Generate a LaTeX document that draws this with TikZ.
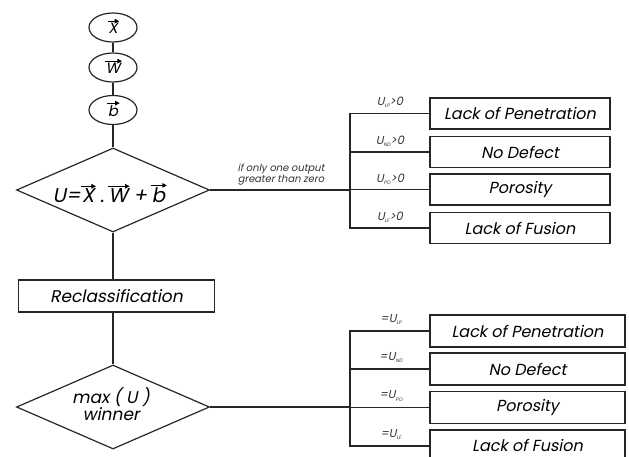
\documentclass[tikz,border=0pt]{standalone}
\usepackage{fontspec}
\setmainfont{Poppins}[ItalicFont=Poppins, ItalicFeatures={FakeSlant=0.2}]
\usetikzlibrary{shapes.geometric,arrows.meta}
\newcommand\vecar[1]{\tikz[baseline=(va.base)]{\node[inner sep=0pt,draw=none,minimum size=0pt] (va) {#1};
  \draw[line width=0.9pt,-{Triangle[length=4.5pt,width=4.5pt]}] ([yshift=2.2pt,xshift=-0.5pt]va.north west) -- ([yshift=2.2pt,xshift=1.5pt]va.north east);}}
\tikzset{
  ln/.style={line width=1.2pt, draw=black!85},
  ell/.style={ellipse, ln, minimum width=48pt, minimum height=29pt, inner sep=0pt, font=\itshape\fontsize{15}{15}\selectfont},
  dia/.style={diamond, ln, minimum width=193pt, minimum height=84pt, inner sep=0pt, aspect=2.3},
  boxa/.style={rectangle, ln, minimum width=180pt, minimum height=31pt, inner sep=0pt, font=\itshape\fontsize{16}{16}\selectfont},
  boxb/.style={rectangle, ln, minimum width=195pt, minimum height=32pt, inner sep=0pt, font=\itshape\fontsize{16}{16}\selectfont},
  lab/.style={inner sep=0pt, font=\itshape\fontsize{11.5}{11.5}\selectfont, text=black!80},
}
\newcommand\sub[1]{\raisebox{-2pt}{\fontsize{5}{5}\selectfont #1}}
\begin{document}
\begin{tikzpicture}[x=1pt,y=-1pt]
\useasboundingbox (0,0) rectangle (629,456);
\begin{scope}
\clip (0,0) rectangle (629,456);
% top column
\node[ell] (ex) at (113,27.5) {\vecar{X}};
\node[ell] (ew) at (113,67.5) {\vecar{W}};
\node[ell] (eb) at (113,110) {\vecar{b}};
\node[dia] (d1) at (113,190) {};
\node[inner sep=0pt, font=\itshape\fontsize{20}{20}\selectfont] (d1t) at (110,193) {U=\vecar{X}\,.\,\vecar{W}\,+\,\vecar{b}};
\node[rectangle, ln, minimum width=196pt, minimum height=32pt, inner sep=0pt, font=\itshape\fontsize{17}{17}\selectfont] (rc) at (116.5,296) {Reclassification};
\node[dia] (d2) at (113,407) {};
\node[inner sep=0pt, align=center, font=\itshape\fontsize{17}{16}\selectfont] (d2t) at (111,404) {max ( U )\\winner};
\draw[ln] (ex) -- (ew);
\draw[ln] (ew) -- (eb);
\draw[ln] (eb) -- (d1.north);
\draw[ln] (d1.south) -- (rc.north -| d1.south);
\draw[ln] (rc.south -| d2.north) -- (d2.north);
% upper outputs
\node[boxa] (t1) at (520,113.5) {Lack of Penetration};
\node[boxa] (t2) at (520,152) {No Defect};
\node[boxa] (t3) at (520,189.5) {Porosity};
\node[boxa] (t4) at (520,228) {Lack of Fusion};
\coordinate (j1) at (350,190);
\draw[ln] (d1.east) -- (j1);
\draw[ln] (t1.west) -- (t1.west -| j1) -- (t4.west -| j1) -- (t4.west);
\draw[ln] (t2.west) -- (t2.west -| j1);
\draw[ln] (t3.west) -- (t3.west -| j1);
\node[lab] (l1) at (390,102.5) {U\sub{LP}>0};
\node[lab] (l2) at (390,141) {U\sub{ND}>0};
\node[lab] (l3) at (390,179.5) {U\sub{PO}>0};
\node[lab] (l4) at (390,217.5) {U\sub{LF}>0};
\node[inner sep=0pt, align=center, font=\itshape\fontsize{10}{9.5}\selectfont, text=black!80] (note) at (281,174.5) {if only one output\\greater than zero};
% lower outputs
\node[boxb] (b1) at (527.5,331) {Lack of Penetration};
\node[boxb] (b2) at (527.5,369) {No Defect};
\node[boxb] (b3) at (527.5,407.5) {Porosity};
\node[boxb] (b4) at (527.5,446) {};
\node[inner sep=0pt, font=\itshape\fontsize{16}{16}\selectfont] (b4t) at (527.5,445) {Lack of Fusion};
\coordinate (j2) at (350,407);
\draw[ln] (d2.east) -- (j2);
\draw[ln] (b1.west) -- (b1.west -| j2) -- (b4.west -| j2) -- (b4.west);
\draw[ln] (b2.west) -- (b2.west -| j2);
\draw[ln] (b3.west) -- (b3.west -| j2);
\node[lab] (m1) at (391,319.5) {=U\sub{LP}};
\node[lab] (m2) at (391,357.5) {=U\sub{ND}};
\node[lab] (m3) at (391,396) {=U\sub{PO}};
\node[lab] (m4) at (391,434) {=U\sub{LF}};
\end{scope}
\end{tikzpicture}
\end{document}
